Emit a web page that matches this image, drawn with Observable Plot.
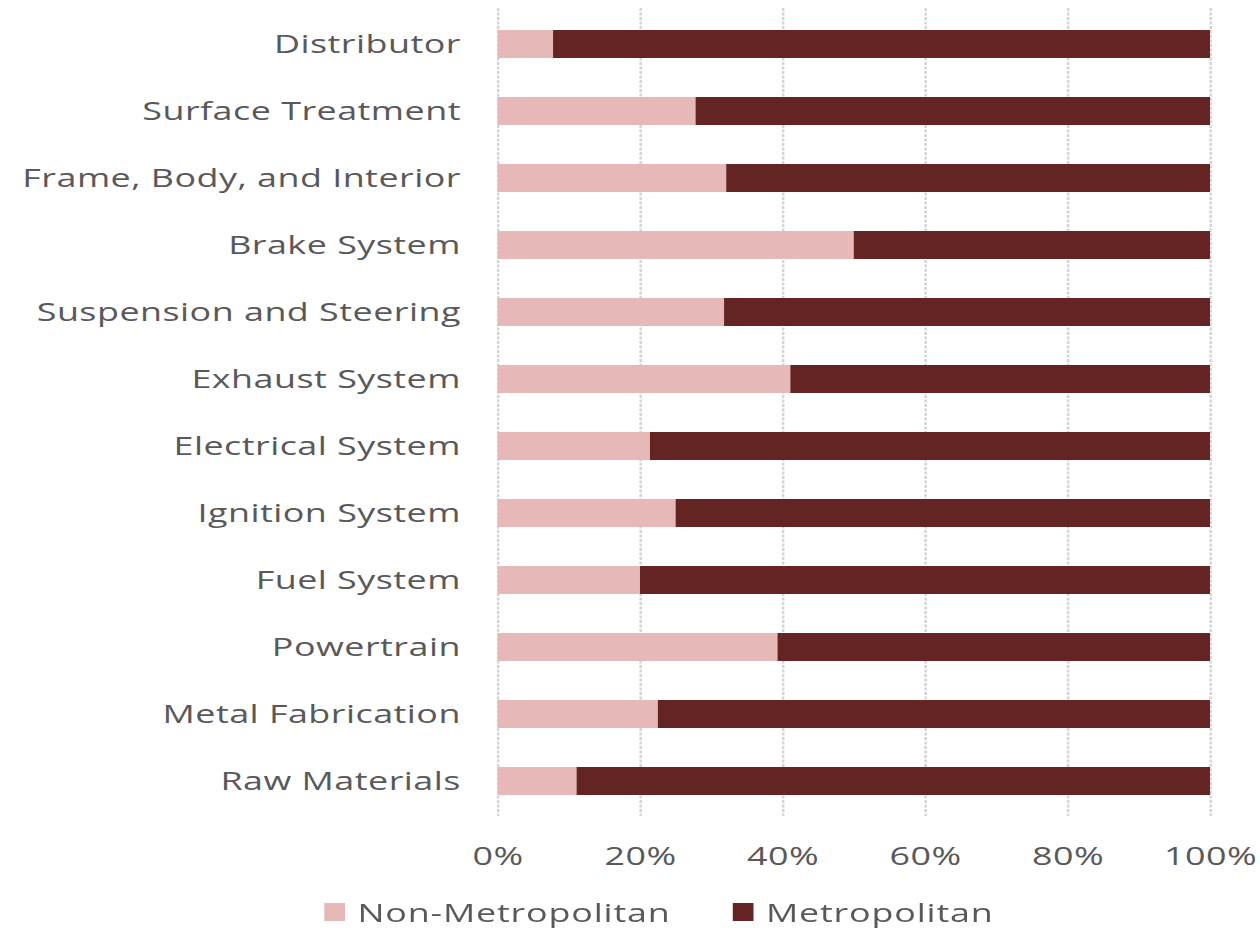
<!DOCTYPE html>
<html><head><meta charset="utf-8">
<script src="https://cdn.jsdelivr.net/npm/d3@7"></script>
<script src="https://cdn.jsdelivr.net/npm/@observablehq/plot@0.6"></script>
<style>
body{margin:0;background:#fff;overflow:hidden;}
#wrap{width:913px;transform:scaleX(1.38);transform-origin:0 0;font-family:"Open Sans",sans-serif;}
.legend{display:flex;align-items:center;height:54px;padding-left:235px;font-size:26px;color:#595959;letter-spacing:0.6px;}
.item{display:flex;align-items:center;margin-right:45px;}
.sw{width:15px;height:18px;margin-right:9px;}
</style></head><body>
<div id="wrap"><div id="chart"></div><div class="legend" id="legend"></div></div>
<script>
const categories = ["Distributor","Surface Treatment","Frame, Body, and Interior","Brake System","Suspension and Steering","Exhaust System","Electrical System","Ignition System","Fuel System","Powertrain","Metal Fabrication","Raw Materials"];
const nonMetro = [7.8, 27.8, 32.1, 50.0, 31.8, 41.1, 21.4, 25.0, 20.0, 39.3, 22.5, 11.1];
const metro = [92.2, 72.2, 67.9, 50.0, 68.2, 58.9, 78.6, 75.0, 80.0, 60.7, 77.5, 88.9];
const seriesNames = ["Non-Metropolitan","Metropolitan"];
const seriesColors = ["#e6b8b7","#632423"];
const xTicks = [0,20,40,60,80,100];

const rows = [];
categories.forEach((c,i)=>{
  rows.push({category:c, series:seriesNames[0], value:nonMetro[i]});
  rows.push({category:c, series:seriesNames[1], value:metro[i]});
});

const chart = Plot.plot({
  width:913, height:885,
  marginTop:8, marginBottom:69, marginLeft:360.5, marginRight:36.2,
  style:{fontFamily:'"Open Sans", sans-serif', fontSize:"26px", color:"#595959", background:"#fff", letterSpacing:"0.35px"},
  x:{domain:[0,100]},
  y:{domain:categories, paddingInner:0.584, paddingOuter:0.292},
  color:{domain:seriesNames, range:seriesColors},
  marks:[
    Plot.gridX(xTicks,{stroke:"#d4d4d4", strokeOpacity:1, strokeWidth:1.8, strokeDasharray:"3,1.5"}),
    Plot.barX(rows,{x:"value", y:"category", fill:"series", order:seriesNames}),
    Plot.axisY({tickSize:0, tickPadding:27, label:null}),
    Plot.axisX(xTicks,{tickSize:0, tickPadding:30, tickFormat:d=>d+"%", label:null})
  ]
});
document.getElementById("chart").appendChild(chart);

const leg = document.getElementById("legend");
seriesNames.forEach((n,i)=>{
  const it = document.createElement("div"); it.className="item";
  const sw = document.createElement("div"); sw.className="sw"; sw.style.background=seriesColors[i];
  const tx = document.createElement("span"); tx.textContent=n;
  it.appendChild(sw); it.appendChild(tx); leg.appendChild(it);
});
</script></body></html>
